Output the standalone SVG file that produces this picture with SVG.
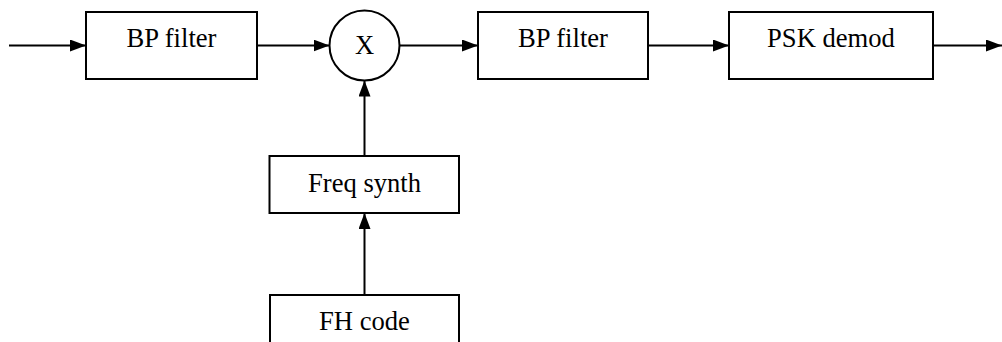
<svg xmlns="http://www.w3.org/2000/svg" width="1002" height="342" viewBox="0 0 1002 342">
<defs>
<style>
.box{fill:#fff;stroke:#000;stroke-width:2}
.lbl{font-family:"Liberation Serif","Times New Roman",serif;font-size:26.6px;fill:#000;text-anchor:middle}
.wire{fill:none;stroke:#000;stroke-width:2}
</style>
<marker id="ah" viewBox="0 0 16 12" refX="16" refY="6" markerWidth="16" markerHeight="12" markerUnits="userSpaceOnUse" orient="auto">
<path d="M0,0 L16,6 L0,12 Z" fill="#000"/>
</marker>
</defs>
<rect width="1002" height="342" fill="#fff"/>
<g id="connectors">
<line class="wire" x1="9" y1="45.5" x2="86" y2="45.5" marker-end="url(#ah)"/>
<line class="wire" x1="257" y1="45.5" x2="329.5" y2="45.5" marker-end="url(#ah)"/>
<line class="wire" x1="400" y1="45.5" x2="478" y2="45.5" marker-end="url(#ah)"/>
<line class="wire" x1="648" y1="45.5" x2="729" y2="45.5" marker-end="url(#ah)"/>
<line class="wire" x1="933" y1="45.5" x2="1002" y2="45.5" marker-end="url(#ah)"/>
<line class="wire" x1="364.5" y1="156" x2="364.5" y2="80.5" marker-end="url(#ah)"/>
<line class="wire" x1="364.5" y1="295" x2="364.5" y2="213" marker-end="url(#ah)"/>
</g>
<g id="bpf1">
<rect class="box" x="86" y="12" width="171" height="67"/>
<text class="lbl" x="171.5" y="47">BP filter</text>
</g>
<g id="mixer">
<circle class="box" cx="364.5" cy="45.5" r="35"/>
<text class="lbl" x="364.5" y="54">X</text>
</g>
<g id="bpf2">
<rect class="box" x="478" y="12" width="170" height="67"/>
<text class="lbl" x="563" y="47">BP filter</text>
</g>
<g id="psk">
<rect class="box" x="729" y="12" width="204" height="67"/>
<text class="lbl" x="831" y="47">PSK demod</text>
</g>
<g id="freqsynth">
<rect class="box" x="269.5" y="156" width="189.5" height="57"/>
<text class="lbl" x="364.5" y="192">Freq synth</text>
</g>
<g id="fhcode">
<rect class="box" x="270" y="295" width="189" height="60"/>
<text class="lbl" x="364.5" y="330">FH code</text>
</g>
</svg>
